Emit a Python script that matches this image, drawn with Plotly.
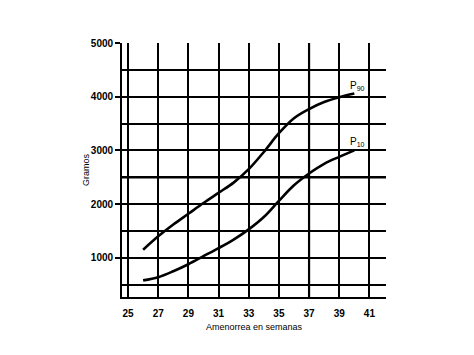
import plotly.graph_objects as go

weeks = [26, 27, 28, 29, 30, 31, 32, 33, 34, 35, 36, 37, 38, 39, 40]
p90 = [1150, 1400, 1620, 1820, 2020, 2210, 2400, 2650, 2970, 3320, 3600, 3770, 3900, 3990, 4060]
p10 = [580, 640, 750, 880, 1030, 1180, 1340, 1530, 1760, 2060, 2350, 2570, 2750, 2880, 3000]
x_ticks = [25, 27, 29, 31, 33, 35, 37, 39, 41]
y_ticks = [1000, 2000, 3000, 4000, 5000]

fig = go.Figure()
for ys in (p90, p10):
    fig.add_trace(go.Scatter(x=weeks, y=ys, mode="lines", line=dict(color="black", width=2.6, shape="spline"),
                             showlegend=False, hoverinfo="skip"))

fig.add_hline(y=2500, line=dict(color="black", width=2.6))
fig.add_vline(x=37, line=dict(color="black", width=2.2))

fig.add_annotation(x=40.2, y=4200, text="P<sub>90</sub>", showarrow=False,
                   font=dict(size=10, color="black", family="Liberation Sans"))
fig.add_annotation(x=40.2, y=3150, text="P<sub>10</sub>", showarrow=False,
                   font=dict(size=10, color="black", family="Liberation Sans"))

fig.update_layout(
    width=474, height=355,
    margin=dict(l=122, r=88, t=43, b=58),
    paper_bgcolor="white", plot_bgcolor="white",
    font=dict(family="Liberation Sans", color="black", size=9),
    xaxis=dict(range=[24.6, 42.1], tickvals=x_ticks, showgrid=True, gridcolor="black", gridwidth=1.5,
               showline=True, linecolor="black", linewidth=1.6, zeroline=False, ticks="",
               ticklabelstandoff=6,
               tickfont=dict(size=10, family="Liberation Sans", weight="bold"),
               title=dict(text="Amenorrea en semanas", font=dict(size=9), standoff=6)),
    yaxis=dict(range=[270, 5000], tickvals=y_ticks, showgrid=True, gridcolor="black", gridwidth=1.5,
               minor=dict(dtick=500, tick0=500, showgrid=True, gridcolor="black", gridwidth=1.5),
               showline=True, linecolor="black", linewidth=1.8, zeroline=False,
               ticks="outside", ticklen=5, tickcolor="black", tickwidth=1.5,
               tickfont=dict(size=10, family="Liberation Sans", weight="bold"),
               title=dict(text="Gramos", font=dict(size=9), standoff=0)),
)

fig.write_html("out.html")
